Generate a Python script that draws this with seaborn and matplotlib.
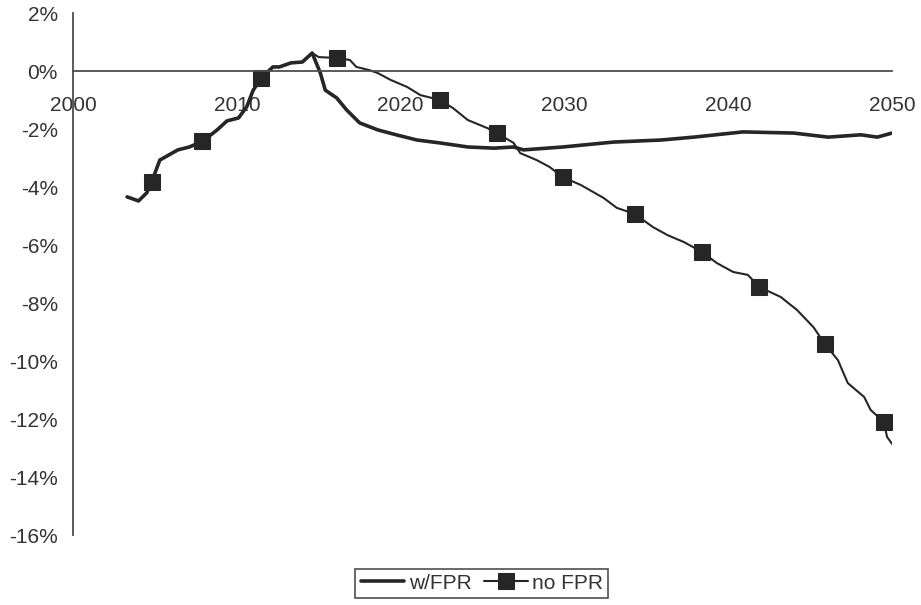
import numpy as np
import pandas as pd
import matplotlib
matplotlib.use("Agg")
import matplotlib.pyplot as plt
import seaborn as sns
from matplotlib.ticker import FuncFormatter

# shared path (both series identical until the 2014 peak)
early_years = [2003.3, 2004.0, 2004.5, 2004.8, 2005.3, 2006.4, 2007.1, 2007.9,
               2008.8, 2009.4, 2010.1, 2010.6, 2011.0, 2011.5, 2012.2, 2012.6,
               2013.3, 2014.0, 2014.6]
early_vals = [-4.34, -4.48, -4.20, -3.82, -3.07, -2.72, -2.62, -2.43,
              -2.03, -1.72, -1.62, -1.24, -0.66, -0.24, 0.14, 0.14,
              0.28, 0.31, 0.62]

# no FPR after the peak
nofpr_years = [2015.0, 2016.1, 2016.9, 2017.3, 2018.1, 2018.6, 2019.4, 2020.4,
               2021.2, 2022.4, 2023.2, 2024.1, 2025.3, 2025.9, 2026.9, 2027.3,
               2028.3, 2029.1, 2029.9, 2031.0, 2032.4, 2033.2, 2034.3, 2035.4,
               2036.3, 2037.3, 2038.4, 2039.3, 2040.3, 2041.2, 2041.9, 2043.2,
               2044.2, 2045.2, 2045.9, 2046.7, 2047.3, 2048.3, 2048.7, 2049.5,
               2049.7, 2050.1]
nofpr_vals = [0.48, 0.45, 0.38, 0.14, 0.03, -0.07, -0.31, -0.55,
              -0.83, -1.00, -1.28, -1.69, -1.97, -2.15, -2.48, -2.83,
              -3.07, -3.31, -3.66, -3.93, -4.38, -4.72, -4.93, -5.38,
              -5.66, -5.90, -6.24, -6.62, -6.93, -7.03, -7.45, -7.79,
              -8.24, -8.83, -9.41, -9.97, -10.76, -11.24, -11.69, -12.10,
              -12.62, -12.93]

# w/FPR after the peak
fpr_years = [2015.1, 2015.4, 2016.1, 2016.7, 2017.5, 2018.6, 2019.8, 2021.0,
             2022.4, 2024.1, 2025.7, 2026.9, 2027.5, 2029.9, 2033.0, 2035.9,
             2037.9, 2040.9, 2044.0, 2046.1, 2048.1, 2049.1, 2050.0]
fpr_vals = [-0.07, -0.66, -0.93, -1.34, -1.79, -2.03, -2.21, -2.38,
            -2.48, -2.62, -2.66, -2.62, -2.72, -2.62, -2.45, -2.38,
            -2.28, -2.10, -2.14, -2.28, -2.20, -2.28, -2.14]

# years where the "no FPR" line carries a square marker
marker_years = [2004.8, 2007.9, 2011.5, 2016.1, 2022.4, 2025.9, 2029.9,
                2034.3, 2038.4, 2041.9, 2045.9, 2049.5]

x_ticks = [2000, 2010, 2020, 2030, 2040, 2050]
y_ticks = [-16, -14, -12, -10, -8, -6, -4, -2, 0, 2]

df_fpr = pd.DataFrame({"year": early_years + fpr_years,
                       "value": early_vals + fpr_vals})
df_no = pd.DataFrame({"year": early_years + nofpr_years,
                      "value": early_vals + nofpr_vals})
mark_idx = [df_no["year"].tolist().index(y) for y in marker_years]

sns.set_style("white")
plt.rcParams["font.family"] = ["Liberation Sans", "DejaVu Sans"]

line_col = "#262626"
axis_col = "#4d4d4d"
text_col = "#333333"

fig = plt.figure(figsize=(9.21, 6.05), dpi=100)
ax = fig.add_axes([0.0793, 0.1157, 0.8892, 0.8628])

sns.lineplot(data=df_fpr, x="year", y="value", ax=ax, sort=False, estimator=None,
             color=line_col, linewidth=2.6, label="w/FPR")
sns.lineplot(data=df_no, x="year", y="value", ax=ax, sort=False, estimator=None,
             color=line_col, linewidth=1.5, marker="s", markersize=11.5,
             markevery=mark_idx, markeredgecolor=line_col, markerfacecolor=line_col,
             label="no FPR")

ax.set_xlim(2000, 2050)
ax.set_ylim(-16, 2)
ax.set_xticks(x_ticks)
ax.set_yticks(y_ticks)
ax.yaxis.set_major_formatter(FuncFormatter(lambda v, p: f"{v:.0f}%"))
ax.set_xlabel("")
ax.set_ylabel("")

for s in ["top", "right"]:
    ax.spines[s].set_visible(False)
ax.spines["bottom"].set_position(("data", 0))
for s in ["left", "bottom"]:
    ax.spines[s].set_color(axis_col)
    ax.spines[s].set_linewidth(1.3)

ax.tick_params(axis="x", direction="out", length=4, width=1.3, color=axis_col,
               pad=14, labelsize=15, labelcolor=text_col)
ax.tick_params(axis="y", direction="out", length=5, width=1.3, color=axis_col,
               pad=6, labelsize=15, labelcolor=text_col)
ax.grid(False)

ax.get_legend().remove()
handles, labels = ax.get_legend_handles_labels()
leg = fig.legend(handles, labels, loc="center", bbox_to_anchor=(0.523, 0.036),
                 ncol=2, frameon=True, fancybox=False, edgecolor="#222222",
                 fontsize=15, handlelength=2.1, handletextpad=0.2,
                 columnspacing=0.6, borderpad=0.25, labelcolor=text_col)
leg.get_frame().set_linewidth(1.2)

plt.savefig("out.png", dpi=100)
